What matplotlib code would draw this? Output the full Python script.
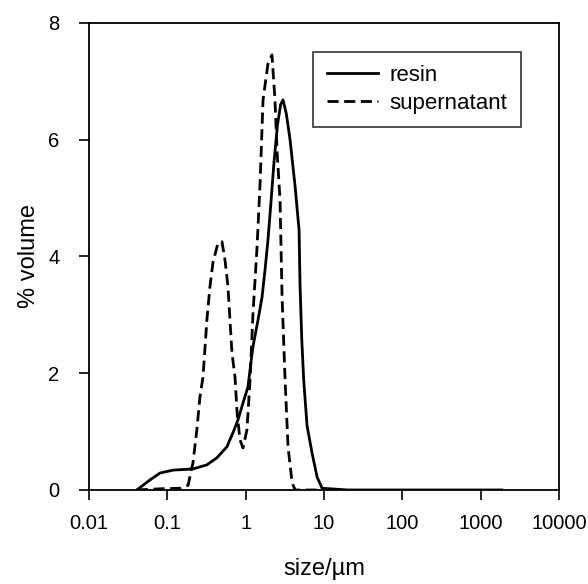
import matplotlib
matplotlib.use("Agg")
import matplotlib.pyplot as plt
from matplotlib.ticker import FixedLocator, FixedFormatter, NullLocator

plt.rcParams['font.family'] = ['Liberation Sans', 'DejaVu Sans']

# resin size distribution
resin_size = [0.041, 0.060, 0.081, 0.118, 0.213, 0.321, 0.43, 0.578, 0.69, 0.80, 0.927,
              1.07, 1.24, 1.44, 1.62, 1.77, 1.93, 2.1, 2.3, 2.55, 2.8, 3.0, 3.3, 3.69, 4.28,
              4.81, 4.95, 5.2, 5.5, 6.08, 7.05, 8.17, 9.46, 20, 100, 1860]
resin_vol = [0.0, 0.17, 0.29, 0.34, 0.36, 0.43, 0.55, 0.74, 0.98, 1.2, 1.49,
             1.76, 2.45, 2.91, 3.3, 3.77, 4.28, 4.9, 5.6, 6.25, 6.6, 6.68, 6.45, 6.0, 5.2,
             4.45, 3.5, 2.6, 1.9, 1.1, 0.63, 0.22, 0.03, 0.0, 0.0, 0.0]

# supernatant size distribution
sup_size = [0.041, 0.08, 0.15, 0.185, 0.2, 0.213, 0.239, 0.262, 0.286, 0.321, 0.351,
            0.384, 0.445, 0.50, 0.546, 0.596, 0.632, 0.67, 0.733, 0.78, 0.848, 0.927,
            1.04, 1.14, 1.24, 1.40, 1.53, 1.67, 1.93, 2.17, 2.37, 2.52, 2.75, 2.92,
            3.19, 3.48, 3.92, 4.3, 10.0]
sup_vol = [0.0, 0.02, 0.03, 0.08, 0.3, 0.46, 1.03, 1.6, 1.93, 2.91, 3.48,
           3.9, 4.23, 4.25, 3.94, 3.48, 2.91, 2.35, 1.93, 1.32, 0.86, 0.72,
           1.03, 1.88, 3.0, 4.16, 5.25, 6.68, 7.3, 7.45, 6.68, 5.8, 4.97, 3.3,
           1.88, 0.74, 0.12, 0.0, 0.0]

xticks = [0.01, 0.1, 1, 10, 100, 1000, 10000]
xtick_labels = ["0.01", "0.1", "1", "10", "100", "1000", "10000"]
yticks = [0, 2, 4, 6, 8]

fig = plt.figure(figsize=(5.88, 5.84), dpi=100)
ax = fig.add_axes([0.151, 0.161, 0.80, 0.80])

ax.plot(resin_size, resin_vol, color="black", lw=2.0, label="resin")
ax.plot(sup_size, sup_vol, color="black", lw=2.0, ls=(0, (4, 2)), label="supernatant")

ax.set_xscale("log")
ax.set_xlim(0.01, 10000)
ax.set_ylim(0, 8)
ax.xaxis.set_major_locator(FixedLocator(xticks))
ax.xaxis.set_major_formatter(FixedFormatter(xtick_labels))
ax.xaxis.set_minor_locator(NullLocator())
ax.set_yticks(yticks)
ax.tick_params(direction="out", length=7, width=1.2, labelsize=14.5)
ax.tick_params(axis="x", pad=10)
ax.tick_params(axis="y", pad=14)
for s in ax.spines.values():
    s.set_linewidth(1.3)

ax.set_xlabel("size/µm", fontsize=17, labelpad=18)
ax.set_ylabel("% volume", fontsize=17, labelpad=6)

leg = ax.legend(loc="upper left", bbox_to_anchor=(0.477, 0.938), borderaxespad=0,
                fontsize=16, frameon=True, fancybox=False, edgecolor="black",
                handlelength=2.3, handletextpad=0.55, borderpad=0.6, labelspacing=0.3)
leg.get_frame().set_linewidth(1.2)

fig.savefig("out.png", dpi=100)
